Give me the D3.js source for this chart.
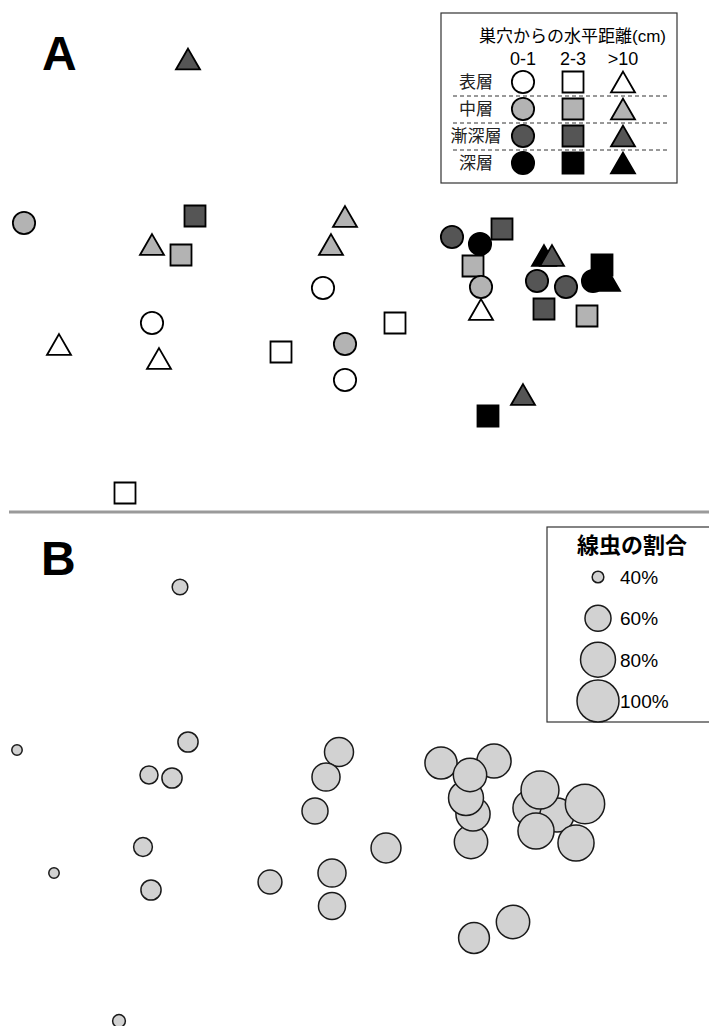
<!DOCTYPE html>
<html>
<head>
<meta charset="utf-8">
<script src="https://cdn.jsdelivr.net/npm/d3@7"></script>
<style>
  body { margin: 0; background: #fff; }
  svg { display: block; font-family: "Liberation Sans", Arial, "Noto Sans CJK JP", sans-serif; }
</style>
</head>
<body>
<script>
// ordination scores (same units for both panels)
const layers = ["表層", "中層", "漸深層", "深層"];
const distances = ["0-1", "2-3", ">10"];

// panel A: samples coloured by layer, shaped by distance from burrow
const aX = [18.8, 2.4, 19.5, 15.2, 18.1, 34.5, 33.1, 32.3, 15.2, 5.9, 15.9, 39.5, 28.1, 34.5, 34.5, 12.5, 48.8, 52.3,
            45.2, 48.0, 50.2, 47.3, 48.1, 48.1,
            54.4, 55.2, 53.7, 56.6, 54.4, 58.7, 59.3, 60.2, 60.8];
const aY = [6.25, 22.3, 21.6, 24.8, 25.5, 22.0, 24.8, 28.8, 32.3, 34.8, 36.2, 32.3, 35.2, 34.4, 38.0, 49.3, 41.6, 39.8,
            23.7, 24.4, 22.9, 26.6, 28.7, 31.3,
            25.9, 25.9, 28.1, 28.7, 30.9, 31.6, 28.1, 26.5, 28.4];
const aLayer = [2, 1, 2, 1, 1, 1, 1, 0, 0, 0, 0, 0, 0, 1, 0, 0, 3, 2,
                2, 3, 2, 1, 1, 0,
                3, 2, 2, 2, 2, 1, 3, 3, 3];
const aDist = [2, 0, 1, 2, 1, 2, 2, 0, 0, 2, 2, 1, 1, 0, 0, 1, 1, 2,
               0, 0, 1, 1, 0, 2,
               2, 2, 0, 0, 1, 1, 0, 1, 2];

// panel B: nematode share per sample (%)
const bX = [18.0, 1.7, 18.8, 14.9, 17.2, 33.9, 32.6, 31.5, 14.3, 5.4, 15.1, 38.6, 27.0, 33.2, 33.2, 11.9, 47.4, 51.3,
            44.1, 49.4, 47.1, 47.3, 46.6, 47.0,
            53.1, 55.7, 54.0, 58.5, 53.6, 57.6];
const bY = [6.1, 22.4, 21.6, 24.9, 25.2, 22.6, 25.1, 28.5, 32.1, 34.7, 36.4, 32.2, 35.6, 34.7, 38.0, 49.5, 41.2, 39.6,
            23.7, 23.5, 31.6, 28.8, 27.2, 24.9,
            28.2, 28.9, 26.4, 27.8, 30.5, 31.7];
const bPct = [44, 39, 50, 47, 50, 66, 64, 60, 48, 39, 50, 68, 56, 64, 62, 41, 70, 76,
              73, 78, 76, 78, 80, 76,
              83, 78, 88, 92, 83, 83];
const legendPct = [40, 60, 80, 100];

const width = 709, height = 1026;

const svg = d3.select("body").append("svg")
  .attr("width", width)
  .attr("height", height);

const x = d3.scaleLinear().domain([0, 70.9]).range([0, 709]);
const y = d3.scaleLinear().domain([0, 50]).range([0, 500]);

const fill = d3.scaleOrdinal().domain(d3.range(4)).range(["#ffffff", "#b3b3b3", "#555555", "#000000"]);
const shape = d3.scaleOrdinal().domain(d3.range(3)).range([d3.symbolCircle, d3.symbolSquare, d3.symbolTriangle]);
const shapeSize = d3.scaleOrdinal().domain(d3.range(3)).range([390, 441, 250]);
const r = d3.scaleRadial().domain([35, 100]).range([0, 21]);

// symbol path for a distance class
const marker = dist => d3.symbol().type(shape(dist)).size(shapeSize(dist))();

// ---------- panel A ----------
const gA = svg.append("g");

gA.append("text")
  .attr("x", 42).attr("y", 70)
  .attr("font-size", 48).attr("font-weight", "bold")
  .text("A");

const aData = aX.map((v, i) => ({ x: v, y: aY[i], layer: aLayer[i], dist: aDist[i] }));

gA.selectAll("path.pt")
  .data(aData)
  .join("path")
  .attr("class", "pt")
  .attr("d", d => marker(d.dist))
  .attr("transform", d => `translate(${x(d.x)},${y(d.y)})`)
  .attr("fill", d => fill(d.layer))
  .attr("stroke", "#000")
  .attr("stroke-width", 1.8);

// legend A
const legA = gA.append("g");
legA.append("rect")
  .attr("x", 441).attr("y", 13).attr("width", 236).attr("height", 170)
  .attr("fill", "#fff").attr("stroke", "#333").attr("stroke-width", 1.2);

legA.append("text")
  .attr("x", 479).attr("y", 42)
  .attr("font-size", 17)
  .text("巣穴からの水平距離(cm)");

const colX = d3.scalePoint().domain(d3.range(3)).range([523, 623]);
const rowY = d3.scalePoint().domain(d3.range(4)).range([82, 163]);

legA.selectAll("text.col")
  .data(distances)
  .join("text")
  .attr("class", "col")
  .attr("x", (d, i) => colX(i)).attr("y", 65)
  .attr("text-anchor", "middle")
  .attr("font-size", 18)
  .text(d => d);

legA.selectAll("text.row")
  .data(layers)
  .join("text")
  .attr("class", "row")
  .attr("x", 476).attr("y", (d, i) => rowY(i) + 6)
  .attr("text-anchor", "middle")
  .attr("font-size", 17)
  .attr("fill", "#222")
  .text(d => d);

legA.selectAll("line.sep")
  .data(d3.range(3))
  .join("line")
  .attr("class", "sep")
  .attr("x1", 453).attr("x2", 670)
  .attr("y1", i => (rowY(i) + rowY(i + 1)) / 2 + 0.5)
  .attr("y2", i => (rowY(i) + rowY(i + 1)) / 2 + 0.5)
  .attr("stroke", "#333").attr("stroke-width", 1)
  .attr("stroke-dasharray", "4,3");

const cells = [];
layers.forEach((l, li) => distances.forEach((dd, di) => cells.push({ layer: li, dist: di })));

legA.selectAll("path.key")
  .data(cells)
  .join("path")
  .attr("class", "key")
  .attr("d", d => marker(d.dist))
  .attr("transform", d => `translate(${colX(d.dist)},${rowY(d.layer) + (d.dist === 2 ? 3.5 : 0)})`)
  .attr("fill", d => fill(d.layer))
  .attr("stroke", "#000")
  .attr("stroke-width", 1.8);

// divider
svg.append("line")
  .attr("x1", 9).attr("x2", width)
  .attr("y1", 512).attr("y2", 512)
  .attr("stroke", "#9a9a9a").attr("stroke-width", 3);

// ---------- panel B ----------
const gB = svg.append("g").attr("transform", "translate(0,526)");

gB.append("text")
  .attr("x", 41).attr("y", 49)
  .attr("font-size", 48).attr("font-weight", "bold")
  .text("B");

const bData = bX.map((v, i) => ({ x: v, y: bY[i], pct: bPct[i] }));

gB.selectAll("circle.pt")
  .data(bData)
  .join("circle")
  .attr("class", "pt")
  .attr("cx", d => x(d.x))
  .attr("cy", d => y(d.y))
  .attr("r", d => r(d.pct))
  .attr("fill", "#d2d2d2")
  .attr("stroke", "#1a1a1a")
  .attr("stroke-width", 1.5);

// legend B
const legB = svg.append("g");
legB.append("rect")
  .attr("x", 547).attr("y", 527).attr("width", 170).attr("height", 195)
  .attr("fill", "#fff").attr("stroke", "#333").attr("stroke-width", 1.2);

legB.append("text")
  .attr("x", 632).attr("y", 553)
  .attr("text-anchor", "middle")
  .attr("font-size", 22).attr("font-weight", "bold")
  .text("線虫の割合");

const keyY = d3.scalePoint().domain(legendPct).range([577, 701]);

legB.selectAll("circle.key")
  .data(legendPct)
  .join("circle")
  .attr("class", "key")
  .attr("cx", 598)
  .attr("cy", d => keyY(d))
  .attr("r", d => r(d))
  .attr("fill", "#d2d2d2")
  .attr("stroke", "#1a1a1a")
  .attr("stroke-width", 1.5);

legB.selectAll("text.key")
  .data(legendPct)
  .join("text")
  .attr("class", "key")
  .attr("x", 620)
  .attr("y", d => keyY(d) + 7)
  .attr("font-size", 19)
  .text(d => d + "%");
</script>
</body>
</html>
